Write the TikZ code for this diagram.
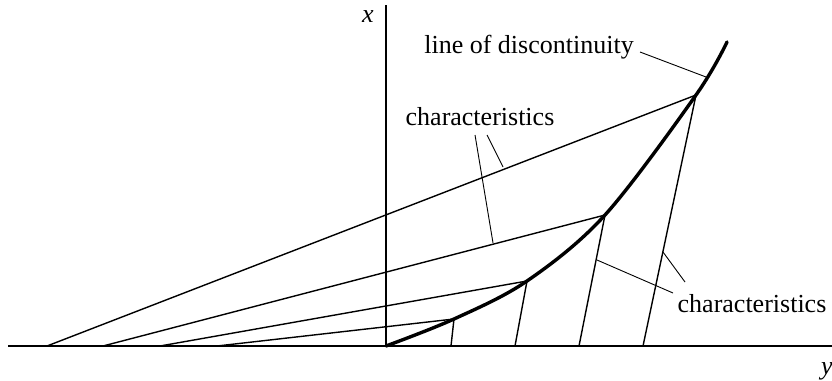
\documentclass[tikz,border=0pt]{standalone}
\usepackage{fontspec}
\setmainfont{Liberation Serif}
\begin{document}
\begin{tikzpicture}[x=1pt,y=-1pt,
  axisline/.style={line width=1.6pt},
  charline/.style={line width=1.4pt},
  leader/.style={line width=0.9pt},
  shockline/.style={line width=3.4pt},
  lbl/.style={inner sep=0pt,font=\fontsize{26}{30}\selectfont}]
\useasboundingbox (0,0) rectangle (832,380);
% axes
\coordinate (O) at (386,346);
\coordinate (yL) at (8,346);
\coordinate (yR) at (832,346);
\coordinate (xT) at (386,5);
\draw[axisline] (yL) -- (yR);
\draw[axisline] (O) -- (xT);
\node[lbl,anchor=base] (xlab) at (368,23) {\itshape x};
\node[lbl,anchor=base west] (ylab) at (821,374) {\itshape y};
% points on line of discontinuity
\coordinate (P1) at (454,319);
\coordinate (P2) at (527,281);
\coordinate (P3) at (605,215);
\coordinate (P4) at (696,95);
\coordinate (PE) at (727,42);
% left characteristics start points
\coordinate (L1) at (217,346);
\coordinate (L2) at (160,346);
\coordinate (L3) at (103,346);
\coordinate (L4) at (47,346);
% right characteristics end points
\coordinate (R1) at (451,346);
\coordinate (R2) at (515,346);
\coordinate (R3) at (579,346);
\coordinate (R4) at (643,346);
\draw[charline] (L1) -- (P1) -- (R1);
\draw[charline] (L2) -- (P2) -- (R2);
\draw[charline] (L3) -- (P3) -- (R3);
\draw[charline] (L4) -- (P4) -- (R4);
\draw[shockline,line cap=round] plot[smooth,tension=0.55] coordinates {(386,346) (454,319) (527,281) (605,215) (696,95) (727,42)};
% labels
\node[lbl,anchor=base] (disc) at (529,53) {line of discontinuity};
\node[lbl,anchor=base] (chU) at (480,125) {characteristics};
\node[lbl,anchor=base] (chR) at (752,312) {characteristics};
% leaders
\coordinate (dA) at (640,52);
\coordinate (dB) at (706,77);
\draw[leader] (dA) -- (dB);
\coordinate (uA1) at (475,135);
\coordinate (uB1) at (493,243);
\coordinate (uA2) at (487,135);
\coordinate (uB2) at (503,167);
\draw[leader] (uA1) -- (uB1);
\draw[leader] (uA2) -- (uB2);
\coordinate (rA1) at (673,293);
\coordinate (rB1) at (597,260);
\coordinate (rA2) at (685,282);
\coordinate (rB2) at (663,252);
\draw[leader] (rA1) -- (rB1);
\draw[leader] (rA2) -- (rB2);
\end{tikzpicture}
\end{document}
